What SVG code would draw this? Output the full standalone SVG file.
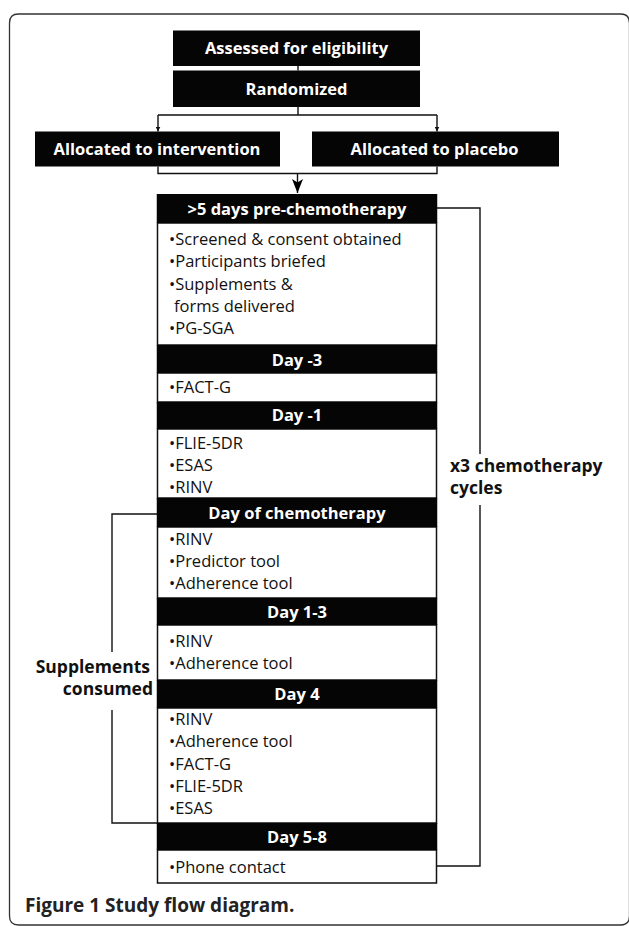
<svg xmlns="http://www.w3.org/2000/svg" width="629" height="926" viewBox="0 0 629 926">
<style>
.hd{fill:#050505}
.ht{font-family:"Open Sans","Noto Sans","Liberation Sans",sans-serif;font-weight:bold;font-size:16.5px;fill:#fff;text-anchor:middle}
.bd{fill:#fff;stroke:#111;stroke-width:1.5}
.bt{font-family:"Open Sans","Noto Sans","Liberation Sans",sans-serif;font-size:16.5px;fill:#111}
.ln{fill:none;stroke:#111;stroke-width:1.4}
.lb{font-family:"Open Sans","Noto Sans","Liberation Sans",sans-serif;font-weight:bold;font-size:17.5px;fill:#111}
.cap{font-family:"Open Sans","Noto Sans","Liberation Sans",sans-serif;font-weight:bold;font-size:19px;fill:#222}
</style>
<defs>
<marker id="sa" viewBox="0 0 10 10" refX="10" refY="5" markerWidth="5" markerHeight="5" markerUnits="userSpaceOnUse" orient="auto"><path d="M0,0 L10,5 L0,10 z" fill="#111"/></marker>
<marker id="ba" viewBox="0 0 10 10" refX="10" refY="5" markerWidth="14" markerHeight="11" markerUnits="userSpaceOnUse" orient="auto" preserveAspectRatio="none"><path d="M0,0 L10,5 L0,10 L2.5,5 z" fill="#000"/></marker>
</defs>
<g id="frame"><path d="M9.5,916 V23 Q9.5,14 18.5,14 H620.5 Q629.5,14 629.5,23 V916 Q629.5,925 620.5,925 H18.5 Q9.5,925 9.5,916 Z" fill="none" stroke="#333" stroke-width="1.3"/></g>
<g id="connectors">
<path class="ln" d="M298,66 V70.5"/>
<path class="ln" d="M298,107 V115 M158,115 H437"/>
<path class="ln" d="M158,115 V131.5" marker-end="url(#sa)"/>
<path class="ln" d="M437,115 V131.5" marker-end="url(#sa)"/>
<path class="ln" d="M158,166.5 V173.5 H437 V166.5"/>
<path class="ln" d="M297.5,173.5 V193" marker-end="url(#ba)"/>
<path class="ln" d="M436.5,208 H480 V454 M480,505 V866 H436.5"/>
<path class="ln" d="M157.5,514 H112 V652 M112,710 V823 H157.5"/>
</g>
<g id="assessed"><rect class="hd" x="173" y="30.5" width="247" height="35.5"/><text class="ht" x="296.5" y="54">Assessed for eligibility</text></g>
<g id="randomized"><rect class="hd" x="173" y="70.5" width="247" height="36.5"/><text class="ht" x="296.5" y="95">Randomized</text></g>
<g id="intervention"><rect class="hd" x="35" y="131.5" width="245" height="35"/><text class="ht" x="157" y="155">Allocated to intervention</text></g>
<g id="placebo"><rect class="hd" x="312" y="131.5" width="247" height="35"/><text class="ht" x="434.5" y="155">Allocated to placebo</text></g>

<g id="pre5-items"><rect class="bd" x="157.5" y="223" width="279" height="122"/>
<text class="bt" x="169" y="245">•Screened &amp; consent obtained</text>
<text class="bt" x="169" y="267">•Participants briefed</text>
<text class="bt" x="169" y="290">•Supplements &amp;</text>
<text class="bt" x="174" y="312">forms delivered</text>
<text class="bt" x="169" y="334">•PG-SGA</text></g>
<g id="pre5"><rect class="hd" x="156.75" y="194" width="280.5" height="29"/><text class="ht" x="297" y="215">&gt;5 days pre-chemotherapy</text></g>

<g id="dm3-items"><rect class="bd" x="157.5" y="373" width="279" height="29"/><text class="bt" x="169" y="393">•FACT-G</text></g>
<g id="dm3"><rect class="hd" x="156.75" y="345" width="280.5" height="28"/><text class="ht" x="297" y="366">Day -3</text></g>

<g id="dm1-items"><rect class="bd" x="157.5" y="429" width="279" height="69"/>
<text class="bt" x="169" y="449">•FLIE-5DR</text>
<text class="bt" x="169" y="471">•ESAS</text>
<text class="bt" x="169" y="493">•RINV</text></g>
<g id="dm1"><rect class="hd" x="156.75" y="402" width="280.5" height="27"/><text class="ht" x="297" y="421">Day -1</text></g>

<g id="d0-items"><rect class="bd" x="157.5" y="527" width="279" height="71"/>
<text class="bt" x="169" y="545">•RINV</text>
<text class="bt" x="169" y="567">•Predictor tool</text>
<text class="bt" x="169" y="589">•Adherence tool</text></g>
<g id="d0"><rect class="hd" x="156.75" y="498" width="280.5" height="29"/><text class="ht" x="297" y="519">Day of chemotherapy</text></g>

<g id="d13-items"><rect class="bd" x="157.5" y="625" width="279" height="55"/>
<text class="bt" x="169" y="647">•RINV</text>
<text class="bt" x="169" y="669">•Adherence tool</text></g>
<g id="d13"><rect class="hd" x="156.75" y="598" width="280.5" height="27"/><text class="ht" x="297" y="618">Day 1-3</text></g>

<g id="d4-items"><rect class="bd" x="157.5" y="708" width="279" height="115"/>
<text class="bt" x="169" y="725">•RINV</text>
<text class="bt" x="169" y="747">•Adherence tool</text>
<text class="bt" x="169" y="770">•FACT-G</text>
<text class="bt" x="169" y="792">•FLIE-5DR</text>
<text class="bt" x="169" y="814">•ESAS</text></g>
<g id="d4"><rect class="hd" x="156.75" y="680" width="280.5" height="28"/><text class="ht" x="297" y="700">Day 4</text></g>

<g id="d58-items"><rect class="bd" x="157.5" y="850" width="279" height="33"/><text class="bt" x="169" y="873">•Phone contact</text></g>
<g id="d58"><rect class="hd" x="156.75" y="823" width="280.5" height="27"/><text class="ht" x="297" y="843">Day 5-8</text></g>

<g id="cycles-label"><text class="lb" x="450" y="472">x3 chemotherapy</text><text class="lb" x="450" y="494">cycles</text></g>
<g id="supplements-label"><text class="lb" x="150" y="673" text-anchor="end">Supplements</text><text class="lb" x="153" y="695" text-anchor="end">consumed</text></g>
<g id="caption"><text class="cap" x="25" y="912">Figure 1 Study flow diagram.</text></g>
</svg>
